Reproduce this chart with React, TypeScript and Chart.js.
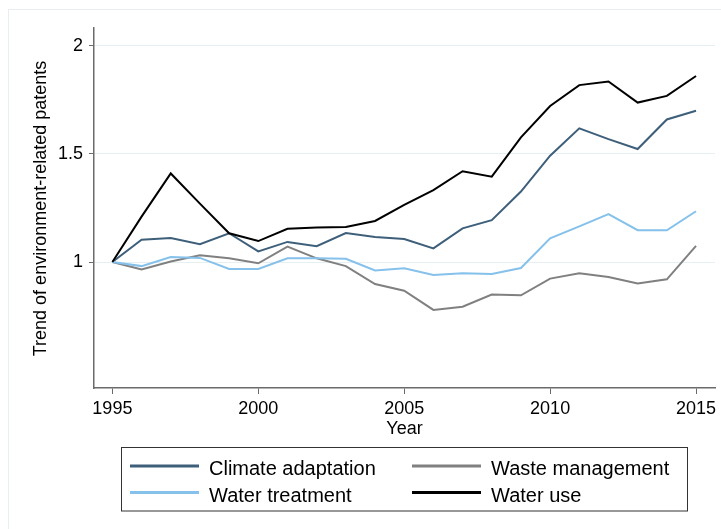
import React, { useEffect, useRef } from "react";
import { Chart, registerables } from "chart.js";

Chart.register(...registerables);

const years = [1995, 1996, 1997, 1998, 1999, 2000, 2001, 2002, 2003, 2004, 2005, 2006, 2007, 2008, 2009, 2010, 2011, 2012, 2013, 2014, 2015];
const climateAdaptation = [1.0, 1.103, 1.111, 1.082, 1.133, 1.049, 1.093, 1.073, 1.134, 1.116, 1.106, 1.063, 1.156, 1.194, 1.326, 1.492, 1.619, 1.569, 1.523, 1.66, 1.7];
const wasteManagement = [1.0, 0.966, 1.002, 1.031, 1.017, 0.994, 1.071, 1.017, 0.981, 0.898, 0.867, 0.778, 0.793, 0.849, 0.846, 0.923, 0.948, 0.931, 0.901, 0.92, 1.075];
const waterTreatment = [1.0, 0.981, 1.023, 1.019, 0.968, 0.968, 1.017, 1.017, 1.015, 0.961, 0.971, 0.94, 0.948, 0.944, 0.972, 1.11, 1.165, 1.222, 1.147, 1.147, 1.235];
const waterUse = [1.0, 1.21, 1.41, 1.27, 1.133, 1.097, 1.154, 1.16, 1.162, 1.19, 1.264, 1.333, 1.42, 1.395, 1.577, 1.722, 1.819, 1.836, 1.738, 1.769, 1.861];

const yTicks = [1, 1.5, 2];
const xTicks = [1995, 2000, 2005, 2010, 2015];
const xTitle = "Year";
const yTitle = "Trend of environment-related patents";

const seriesNames = ["Climate adaptation", "Waste management", "Water treatment", "Water use"];
const seriesColors = ["#3e5f7a", "#808080", "#85c1eb", "#000000"];
const seriesValues = [climateAdaptation, wasteManagement, waterTreatment, waterUse];
const drawOrder = [3, 2, 1, 0];

const FONT = "'Liberation Sans', Arial, Helvetica, sans-serif";
const AXIS_COLOR = "#6b6b6b";
const GRID_COLOR = "#e6eff2";

const decorPlugin = {
  id: "decor",
  beforeDraw(chart: any) {
    const ctx = chart.ctx;
    ctx.save();
    ctx.fillStyle = "#ffffff";
    ctx.fillRect(0, 0, chart.width, chart.height);
    ctx.strokeStyle = "#e7edf0";
    ctx.lineWidth = 1;
    ctx.strokeRect(8.5, 9.5, chart.width + 20, chart.height + 20);
    ctx.restore();
  },
  afterDraw(chart: any) {
    const ctx = chart.ctx;
    const area = chart.chartArea;
    ctx.save();
    ctx.fillStyle = "#000000";
    // x title
    ctx.font = `18px ${FONT}`;
    ctx.textAlign = "center";
    ctx.textBaseline = "alphabetic";
    ctx.fillText(xTitle, (area.left + area.right) / 2, 434);
    // y title
    ctx.save();
    ctx.translate(46, 208.5);
    ctx.rotate(-Math.PI / 2);
    ctx.textAlign = "center";
    ctx.textBaseline = "alphabetic";
    ctx.fillText(yTitle, 0, 0);
    ctx.restore();
    // legend
    ctx.strokeStyle = "#333333";
    ctx.lineWidth = 1;
    ctx.strokeRect(121.5, 447.5, 566, 63.5);
    const cols = [130, 412];
    const rowsSwatch = [466, 492.5];
    const rowsText = [475, 502];
    ctx.font = `20px ${FONT}`;
    ctx.textAlign = "left";
    seriesNames.forEach((name, i) => {
      const c = i % 2;
      const r = Math.floor(i / 2);
      ctx.strokeStyle = seriesColors[i];
      ctx.lineWidth = 3;
      ctx.beginPath();
      ctx.moveTo(cols[c], rowsSwatch[r]);
      ctx.lineTo(cols[c] + 69, rowsSwatch[r]);
      ctx.stroke();
      ctx.fillStyle = "#000000";
      ctx.fillText(name, cols[c] + 79, rowsText[r]);
    });
    ctx.restore();
  },
};

export default function App() {
  const canvasRef = useRef<HTMLCanvasElement | null>(null);

  useEffect(() => {
    if (!canvasRef.current) return;
    const datasets = seriesNames.map((name, i) => ({
      label: name,
      data: years.map((y, k) => ({ x: y, y: seriesValues[i][k] })),
      borderColor: seriesColors[i],
      backgroundColor: seriesColors[i],
      borderWidth: 2,
      pointRadius: 0,
      tension: 0,
      fill: false,
      order: drawOrder[i],
    }));
    const chart = new Chart(canvasRef.current, {
      type: "line",
      data: { datasets },
      options: {
        animation: false,
        responsive: false,
        devicePixelRatio: 1,
        layout: { padding: { left: 0, right: 6, top: 28, bottom: 0 } },
        plugins: { legend: { display: false }, tooltip: { enabled: false } },
        scales: {
          x: {
            type: "linear",
            min: 1994.37,
            max: 2015.65,
            afterFit: (s: any) => {
              s.height = 141;
            },
            afterBuildTicks: (s: any) => {
              s.ticks = xTicks.map((v) => ({ value: v }));
            },
            grid: {
              drawOnChartArea: false,
              drawTicks: true,
              tickLength: 6,
              tickColor: AXIS_COLOR,
              tickWidth: 1,
            },
            border: { display: true, color: AXIS_COLOR, width: 1.5 },
            ticks: {
              color: "#000000",
              font: { family: FONT, size: 18 },
              padding: 4,
              maxRotation: 0,
              autoSkip: false,
              callback: (v: any) => String(v),
            },
          },
          y: {
            type: "linear",
            min: 0.4167,
            max: 2.0833,
            afterFit: (s: any) => {
              s.width = 94;
            },
            afterBuildTicks: (s: any) => {
              s.ticks = yTicks.map((v) => ({ value: v }));
            },
            grid: {
              drawOnChartArea: true,
              color: GRID_COLOR,
              lineWidth: 1,
              drawTicks: true,
              tickLength: 5,
              tickColor: AXIS_COLOR,
              tickWidth: 1,
            },
            border: { display: true, color: AXIS_COLOR, width: 1.5 },
            ticks: {
              color: "#000000",
              font: { family: FONT, size: 18 },
              padding: 6,
              autoSkip: false,
              callback: (v: any) => String(v),
            },
          },
        },
      },
      plugins: [decorPlugin],
    });
    return () => chart.destroy();
  }, []);

  return (
    <canvas
      ref={canvasRef}
      width={721}
      height={529}
      style={{ position: "absolute", left: 0, top: 0, width: 721, height: 529, display: "block" }}
    />
  );
}
